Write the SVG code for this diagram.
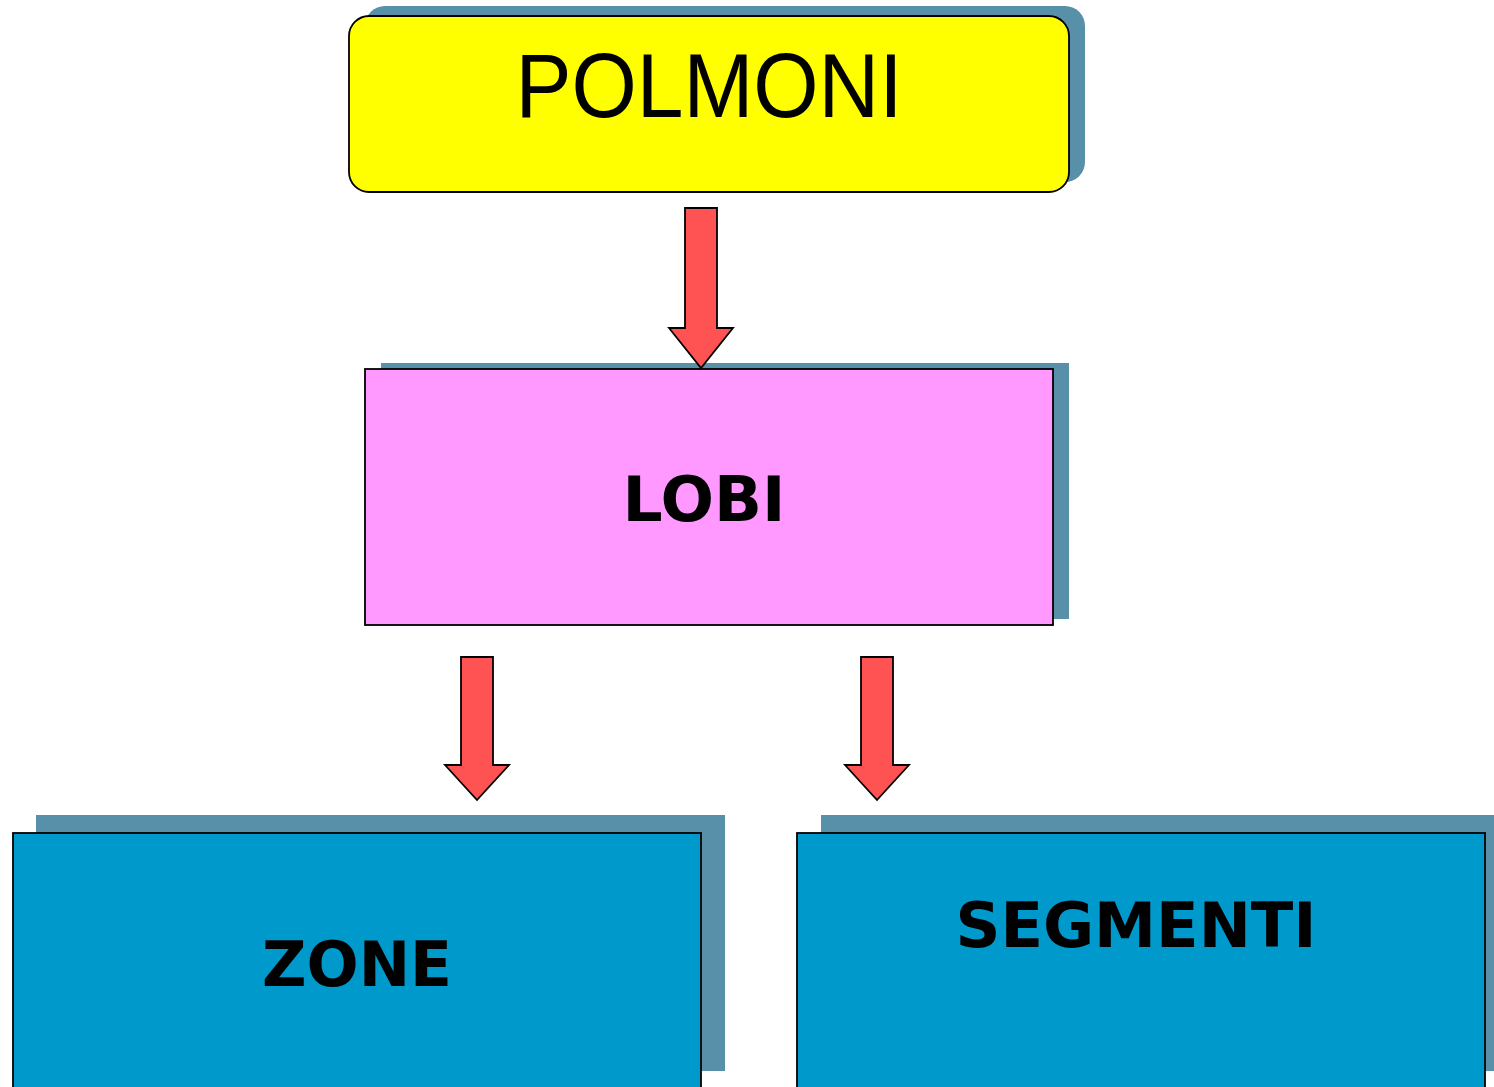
<svg xmlns="http://www.w3.org/2000/svg" width="1494" height="1087" viewBox="0 0 1494 1087">
<style>
.shadow{fill:#5790A8;stroke:none}
.box{stroke:#000;stroke-width:1.8}
.arrow{fill:#FF5252;stroke:#000;stroke-width:1.8;stroke-linejoin:miter}
.lbl{font-family:"DejaVu Sans",sans-serif;font-weight:bold;font-size:63px;fill:#000;text-anchor:middle}
.title{font-family:"Liberation Sans",Arial,sans-serif;font-size:90px;fill:#000;text-anchor:middle}
</style>
<rect width="1494" height="1087" fill="#fff"/>
<g id="polmoni">
<rect class="shadow" x="365" y="6" width="720" height="176" rx="20"/>
<rect class="box" x="349" y="16" width="720" height="176" rx="20" fill="#FFFF00"/>
<text class="title" x="709" y="117" textLength="387" lengthAdjust="spacingAndGlyphs">POLMONI</text>
</g>
<g id="lobi">
<rect class="shadow" x="381" y="363" width="688" height="256"/>
<rect class="box" x="365" y="369" width="688" height="256" fill="#FF99FF"/>
<text class="lbl" x="704" y="521" textLength="163" lengthAdjust="spacingAndGlyphs">LOBI</text>
</g>
<g id="zone">
<rect class="shadow" x="36" y="815" width="689" height="256"/>
<rect class="box" x="13" y="833" width="688" height="256" fill="#0099CC"/>
<text class="lbl" x="357" y="986" textLength="190" lengthAdjust="spacingAndGlyphs">ZONE</text>
</g>
<g id="segmenti">
<rect class="shadow" x="821" y="815" width="689" height="256"/>
<rect class="box" x="797" y="833" width="688" height="256" fill="#0099CC"/>
<text class="lbl" x="1136" y="947" textLength="361" lengthAdjust="spacingAndGlyphs">SEGMENTI</text>
</g>
<g id="connectors">
<path class="arrow" d="M685 208 H717 V328 H733 L701 368 L669 328 H685 Z"/>
<path class="arrow" d="M461 657 H493 V765 H509 L477 800 L445 765 H461 Z"/>
<path class="arrow" d="M861 657 H893 V765 H909 L877 800 L845 765 H861 Z"/>
</g>
</svg>
